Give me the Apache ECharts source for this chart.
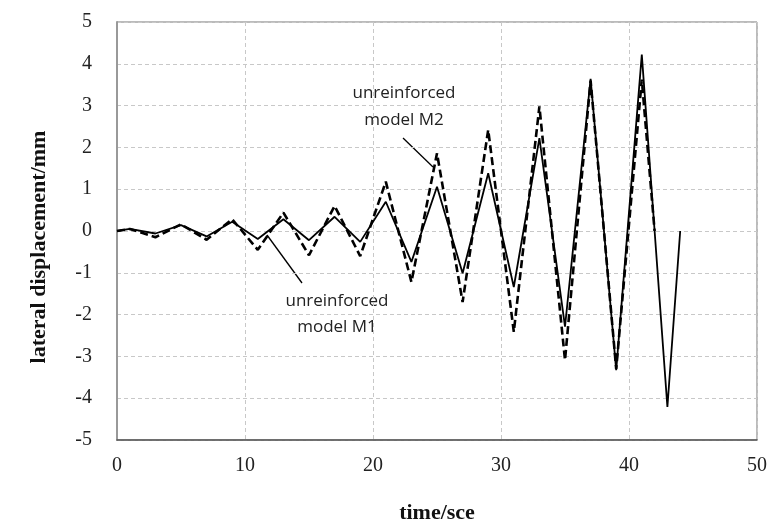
<!DOCTYPE html>
<html>
<head>
<meta charset="utf-8">
<script src="https://cdn.jsdelivr.net/npm/echarts@6/dist/echarts.min.js"></script>
<style>
    html, body { margin: 0; padding: 0; background: #fff; }
    #chart { width: 769px; height: 519px; }
</style>
</head>
<body>
<div id="chart"></div>
<script>
    const timeM1 = [0, 1, 3, 5, 7, 9, 11, 13, 15, 17, 19, 21, 23, 25, 27, 29, 31, 33, 35, 37, 39, 41, 43, 44];
    const dispM1 = [0, 0.05, -0.06, 0.14, -0.13, 0.22, -0.19, 0.28, -0.22, 0.34, -0.26, 0.70, -0.74, 1.06, -1.01, 1.38, -1.34, 2.22, -2.29, 3.64, -3.33, 4.22, -4.21, 0];
    const timeM2 = [0, 1, 3, 5, 7, 9, 11, 13, 15, 17, 19, 21, 23, 25, 27, 29, 31, 33, 35, 37, 39, 41, 42];
    const dispM2 = [0, 0.05, -0.15, 0.16, -0.21, 0.28, -0.45, 0.44, -0.58, 0.60, -0.60, 1.18, -1.22, 1.86, -1.70, 2.42, -2.41, 2.98, -3.09, 3.60, -3.30, 3.62, 0];
    const xTicks = [0, 10, 20, 30, 40, 50];
    const yTicks = [-5, -4, -3, -2, -1, 0, 1, 2, 3, 4, 5];

    const pairs = (xs, ys) => xs.map((x, i) => [x, ys[i]]);
    const serif = '"Liberation Serif", "Times New Roman", serif';
    const sans = '"Open Sans", "Noto Sans", sans-serif';

    const chart = echarts.init(document.getElementById('chart'));
    const option = {
        animation: false,
        grid: {left: 117, right: 12, top: 22, bottom: 79, outerBoundsMode: 'none',
            show: true, borderColor: '#777', borderWidth: 1},
        xAxis: {
            type: 'value',
            min: xTicks[0], max: xTicks[xTicks.length - 1], interval: 10,
            name: 'time/sce',
            nameLocation: 'middle',
            nameGap: 62,
            nameTextStyle: {fontFamily: serif, fontWeight: 'bold', fontSize: 22, color: '#111'},
            axisLine: {show: true, onZero: false, lineStyle: {color: '#555', width: 1.5}},
            axisTick: {show: false},
            axisLabel: {margin: 16, fontFamily: serif, fontSize: 20, color: '#222'},
            splitLine: {show: true, lineStyle: {color: '#c8c8c8', type: [4, 3]}}
        },
        yAxis: {
            type: 'value',
            min: yTicks[0], max: yTicks[yTicks.length - 1], interval: 1,
            axisLine: {show: true, onZero: false, lineStyle: {color: '#999', width: 2}},
            axisTick: {show: false},
            axisLabel: {margin: 25, fontFamily: serif, fontSize: 20, color: '#222'},
            splitLine: {show: true, lineStyle: {color: '#c8c8c8', type: [4, 3]}}
        },
        series: [{
            name: 'unreinforced model M1',
            type: 'line',
            data: pairs(timeM1, dispM1),
            symbol: 'none',
            lineStyle: {color: '#000', width: 1.8}
        }, {
            name: 'unreinforced model M2',
            type: 'line',
            data: pairs(timeM2, dispM2),
            symbol: 'none',
            lineStyle: {color: '#000', width: 2.6, type: [8, 4]}
        }],
        graphic: [
            {type: 'text', x: 39, y: 247, rotation: Math.PI / 2,
                style: {text: 'lateral displacement/mm', font: 'bold 22px ' + serif,
                    fill: '#111', align: 'center', verticalAlign: 'middle'}},
            {type: 'text', x: 404, y: 93,
                style: {text: 'unreinforced', font: '17px ' + sans, fill: '#222',
                    align: 'center', verticalAlign: 'middle'}},
            {type: 'text', x: 404, y: 120,
                style: {text: 'model M2', font: '17px ' + sans, fill: '#222',
                    align: 'center', verticalAlign: 'middle'}},
            {type: 'line', shape: {x1: 403, y1: 138, x2: 433, y2: 167},
                style: {stroke: '#000', lineWidth: 1.3}},
            {type: 'text', x: 337, y: 301,
                style: {text: 'unreinforced', font: '17px ' + sans, fill: '#222',
                    align: 'center', verticalAlign: 'middle'}},
            {type: 'text', x: 337, y: 327,
                style: {text: 'model M1', font: '17px ' + sans, fill: '#222',
                    align: 'center', verticalAlign: 'middle'}},
            {type: 'line', shape: {x1: 267, y1: 235, x2: 302, y2: 283},
                style: {stroke: '#000', lineWidth: 1.3}}
        ]
    };
    chart.setOption(option);
</script>
</body>
</html>
